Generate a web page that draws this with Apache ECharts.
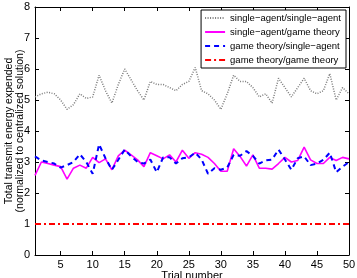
<!DOCTYPE html>
<html>
<head>
<meta charset="utf-8">
<script src="https://cdn.jsdelivr.net/npm/echarts@6/dist/echarts.min.js"></script>
<style>
  html, body { margin: 0; padding: 0; background: #fff; }
  #chart { width: 357px; height: 278px; }
</style>
</head>
<body>
<div id="chart"></div>
<script>
var chart = echarts.init(document.getElementById('chart'));

var trials = [];
for (var i = 1; i <= 50; i++) trials.push(i);
var xTicks = [5, 10, 15, 20, 25, 30, 35, 40, 45, 50];

var seriesNames = ['single\u2212agent/single\u2212agent', 'single\u2212agent/game theory',
                   'game theory/single\u2212agent', 'game theory/game theory'];

// single-agent/single-agent
var saSa = [5.1, 5.2, 5.25, 5.2, 5.0, 4.7, 4.85, 5.2, 5.05, 5.1,
            5.8, 5.3, 4.9, 5.5, 6.0, 5.65, 5.3, 5.0, 5.6, 5.5,
            5.5, 5.4, 5.3, 5.5, 5.6, 6.05, 5.3, 5.2, 5.0, 4.7,
            5.2, 5.8, 5.6, 5.6, 5.4, 5.1, 5.2, 4.9, 5.7, 5.4,
            5.1, 5.4, 5.7, 5.3, 5.2, 5.3, 5.85, 5.0, 5.4, 5.2];
// single-agent/game theory
var saGt = [2.57, 3.0, 2.95, 2.9, 2.85, 2.45, 2.8, 2.9, 2.8, 3.15,
            2.98, 3.1, 2.75, 3.2, 3.38, 3.23, 3.07, 2.85, 3.3, 3.2,
            3.1, 3.23, 3.0, 3.38, 3.12, 3.3, 3.25, 3.15, 2.95, 2.7,
            2.7, 3.43, 3.18, 2.87, 3.23, 2.8, 2.8, 2.77, 2.95, 3.15,
            3.0, 3.05, 3.48, 3.07, 2.95, 2.95, 3.15, 3.05, 3.15, 3.1];
// game theory/single-agent
var gtSa = [3.18, 3.05, 3.0, 2.95, 2.82, 2.9, 3.0, 3.25, 3.0, 2.62,
            3.57, 3.12, 2.75, 3.07, 3.4, 3.18, 3.0, 2.95, 3.08, 2.67,
            3.15, 3.15, 2.95, 3.12, 3.15, 3.3, 3.08, 2.62, 2.8, 2.75,
            2.82, 3.23, 3.2, 3.35, 3.2, 2.95, 3.05, 3.08, 3.4, 3.08,
            2.75, 3.12, 3.18, 2.9, 2.95, 3.07, 3.3, 2.67, 2.85, 3.0];
// game theory/game theory
var gtGt = [];
for (var j = 0; j < 50; j++) gtGt.push(1);

function pairs(vals) {
    var res = [];
    for (var k = 0; k < vals.length; k++) res.push([trials[k], vals[k]]);
    return res;
}

var fontFam = '"Liberation Sans", Arial, sans-serif';
var axisLine = { show: true, onZero: false, lineStyle: { color: '#000', width: 1 } };

function xAxisCfg(top) {
    return {
        type: 'value', min: 1, max: 50, position: top ? 'top' : 'bottom',
        name: top ? '' : 'Trial number', nameLocation: 'middle', nameGap: 15,
        nameMoveOverlap: false,
        nameTextStyle: { fontSize: 11, color: '#000' },
        axisLine: axisLine,
        axisTick: { show: true, inside: true, length: 4, customValues: xTicks, lineStyle: { color: '#000' } },
        axisLabel: { show: !top, color: '#000', fontSize: 11, margin: 4, customValues: xTicks },
        splitLine: { show: false }
    };
}
function yAxisCfg(right) {
    return {
        type: 'value', min: 0, max: 8, interval: 1, position: right ? 'right' : 'left',
        name: right ? '' : 'Total transmit energy expended\n(normalized to centralized solution)',
        nameLocation: 'middle', nameGap: 9,
        nameMoveOverlap: false,
        nameTextStyle: { fontSize: 10.5, color: '#000', lineHeight: 11 },
        axisLine: axisLine,
        axisTick: { show: true, inside: true, length: 4, lineStyle: { color: '#000' } },
        axisLabel: { show: !right, color: '#000', fontSize: 11, margin: 5 },
        splitLine: { show: false }
    };
}

var option = {
    animation: false,
    backgroundColor: '#fff',
    textStyle: { fontFamily: fontFam },
    grid: { left: 35, right: 8, top: 7, bottom: 23, outerBoundsMode: 'none', containLabel: false },
    legend: {
        orient: 'vertical',
        right: 11,
        top: 10,
        backgroundColor: '#fff',
        borderColor: '#000',
        borderWidth: 1,
        borderRadius: 0,
        padding: [3, 5, 3, 3],
        itemWidth: 20,
        itemHeight: 8,
        itemGap: 4,
        itemStyle: { opacity: 0 },
        textStyle: { fontSize: 9.5, color: '#000', fontFamily: fontFam },
        data: seriesNames
    },
    xAxis: [xAxisCfg(false), xAxisCfg(true)],
    yAxis: [yAxisCfg(false), yAxisCfg(true)],
    series: [
        {
            name: seriesNames[0], type: 'line', showSymbol: false, symbol: 'none',
            data: pairs(saSa),
            lineStyle: { color: '#7a7a7a', width: 1.5, type: [1, 1.5] },
            itemStyle: { color: '#7a7a7a' }
        },
        {
            name: seriesNames[1], type: 'line', showSymbol: false, symbol: 'none',
            data: pairs(saGt),
            lineStyle: { color: '#ff00ff', width: 1.6, type: 'solid' },
            itemStyle: { color: '#ff00ff' }
        },
        {
            name: seriesNames[2], type: 'line', showSymbol: false, symbol: 'none',
            data: pairs(gtSa),
            lineStyle: { color: '#0000ff', width: 2, type: [5, 4] },
            itemStyle: { color: '#0000ff' }
        },
        {
            name: seriesNames[3], type: 'line', showSymbol: false, symbol: 'none',
            data: pairs(gtGt),
            lineStyle: { color: '#ff0000', width: 2, type: [6, 3, 2, 3] },
            itemStyle: { color: '#ff0000' }
        }
    ]
};

chart.setOption(option);
</script>
</body>
</html>
